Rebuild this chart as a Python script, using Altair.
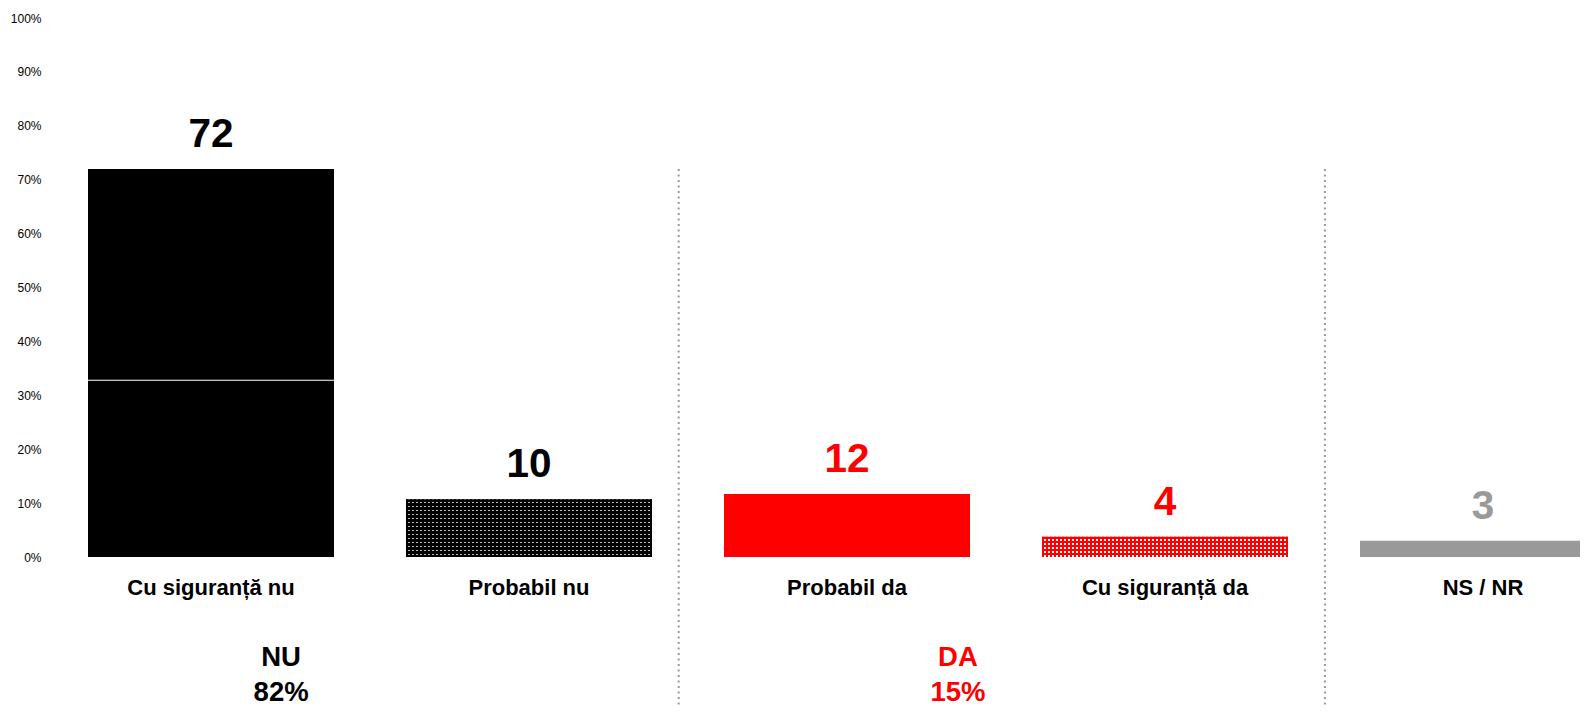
import altair as alt
import pandas as pd

# ---------------- data ----------------
categories = ["Cu siguranță nu", "Probabil nu", "Probabil da", "Cu siguranță da", "NS / NR"]
values = [72.0, 10.7, 11.7, 3.75, 3.0]
value_labels = ["72", "10", "12", "4", "3"]
bar_colors = ["#000000", "#000000", "#ff0000", "#ff0000", "#999999"]
label_colors = ["#000000", "#000000", "#ff0000", "#ff0000", "#999999"]
patterned = ["Probabil nu", "Cu siguranță da"]
pattern_light = {"Probabil nu": "#bdbdbd", "Cu siguranță da": "#ffffff"}
seam_value = 32.8  # thin white seam inside the first bar

group_names = ["NU", "DA"]
group_totals = ["82%", "15%"]
group_anchor = ["Cu siguranță nu", "Probabil da"]
group_band_pos = [0.785, 0.951]
group_colors = ["#000000", "#ff0000"]

separator_after = ["Probabil nu", "Cu siguranță da"]
separator_band_pos = [1.1085, 1.150]

y_ticks = list(range(0, 101, 10))

# ---------------- layout / style ----------------
FONT = "Liberation Sans"
W, H = 1528, 539
PAD_L, PAD_T, PAD_B = 44, 10, 150
X_RANGE = 1590
P_INNER, P_OUTER = 0.2264, 0.1132
STEP = X_RANGE / len(categories)
BAND_W = STEP * (1 - P_INNER)

df = pd.DataFrame({
    "cat": categories,
    "value": values,
    "label": value_labels,
    "bcolor": bar_colors,
    "lcolor": label_colors,
})

x_scale = alt.Scale(domain=categories, range=[0, X_RANGE],
                    paddingInner=P_INNER, paddingOuter=P_OUTER)
y_scale = alt.Scale(domain=[0, 100], nice=False)

X = alt.X("cat:N", scale=x_scale, axis=None, sort=categories)
Y = alt.Y("value:Q", scale=y_scale,
          axis=alt.Axis(values=y_ticks, labelExpr="datum.value + '%'", grid=False,
                        domain=False, ticks=False, labelPadding=11, labelFontSize=12,
                        labelFont=FONT, labelColor="#000000", title=None))

base = alt.Chart(df)

solid = base.transform_filter(
    alt.FieldOneOfPredicate(field="cat", oneOf=[c for c in categories if c not in patterned])
).mark_bar(clip=True).encode(x=X, y=Y, color=alt.Color("bcolor:N", scale=None))


def stripes(length, c1, c2, vertical, period=4.0, on=2.5):
    stops = []
    pos = 0.0
    while pos < length:
        a = pos / length
        b = min((pos + on) / length, 1.0)
        c = min((pos + period) / length, 1.0)
        stops += [{"offset": a, "color": c1}, {"offset": b, "color": c1},
                  {"offset": b, "color": c2}, {"offset": c, "color": c2}]
        pos += period
    g = {"gradient": "linear", "stops": stops, "x1": 0, "y1": 0}
    if vertical:
        g.update({"x2": 0, "y2": 1})
    else:
        g.update({"x2": 1, "y2": 0})
    return g


pattern_layers = []
for cat in patterned:
    i = categories.index(cat)
    dark = bar_colors[i]
    light = pattern_light[cat]
    h = values[i] / 100.0 * H
    sub = base.transform_filter(alt.FieldEqualPredicate(field="cat", equal=cat))
    la = sub.mark_bar(color=stripes(h, dark, light, True)).encode(x=X, y=Y)
    lb = sub.mark_bar(color=stripes(BAND_W, dark, "rgba(0,0,0,0)", False)).encode(x=X, y=Y)
    pattern_layers += [la, lb]

seam = alt.Chart(pd.DataFrame({"cat": [categories[0]], "lo": [seam_value - 0.1],
                               "hi": [seam_value + 0.1]})).mark_bar(color="#ffffff").encode(
    x=X, y=alt.Y("lo:Q", scale=y_scale), y2="hi:Q")

value_text = base.mark_text(baseline="alphabetic", dy=-22, fontSize=40.5, fontWeight="bold",
                            font=FONT).encode(
    x=X, y=alt.Y("value:Q", scale=y_scale), text="label:N",
    color=alt.Color("lcolor:N", scale=None))

cat_text = base.mark_text(baseline="alphabetic", fontSize=22, fontWeight="bold",
                          font=FONT, color="#000000").encode(
    x=X, y=alt.value(H + 38), text="cat:N")

group_layers = []
for name, total, anchor, bp, col in zip(group_names, group_totals, group_anchor,
                                        group_band_pos, group_colors):
    gdf = pd.DataFrame({"cat": [anchor], "name": [name], "total": [total]})
    gx = alt.X("cat:N", scale=x_scale, axis=None, bandPosition=bp)
    g1 = alt.Chart(gdf).mark_text(baseline="alphabetic", fontSize=27.5, fontWeight="bold",
                                  font=FONT, color=col).encode(
        x=gx, y=alt.value(648), text="name:N")
    g2 = alt.Chart(gdf).mark_text(baseline="alphabetic", fontSize=27.5, fontWeight="bold",
                                  font=FONT, color=col).encode(
        x=gx, y=alt.value(682.5), text="total:N")
    group_layers += [g1, g2]

sep_layers = []
for anchor, bp in zip(separator_after, separator_band_pos):
    i = categories.index(anchor)
    px = STEP * P_OUTER + i * STEP + BAND_W * bp
    sdf = pd.DataFrame({"top": [max(values)]})
    s = alt.Chart(sdf).mark_rule(color="#999999", strokeWidth=2, strokeDash=[2, 3.5]).encode(
        x=alt.value(px),
        y=alt.Y("top:Q", scale=y_scale),
        y2=alt.value(H + PAD_B - 1))
    sep_layers.append(s)

chart = alt.layer(
    solid, *pattern_layers, seam, value_text, cat_text, *group_layers, *sep_layers
).properties(
    width=W, height=H,
    autosize=alt.AutoSizeParams(type="none"),
    padding={"left": PAD_L, "top": PAD_T, "right": 0, "bottom": PAD_B},
    background="#ffffff",
).configure_view(stroke=None)

chart.save("out.html", embed_options={"renderer": "svg", "actions": False})
